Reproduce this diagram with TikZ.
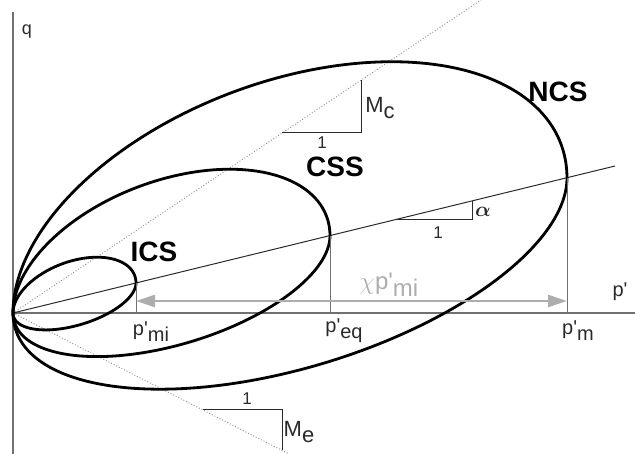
\documentclass[tikz,border=0pt]{standalone}
\usepackage{amsmath,amssymb}
\usepackage{fontspec}
\setmainfont{Liberation Sans}
\usetikzlibrary{arrows.meta,positioning,calc}
\definecolor{Ink}{HTML}{2A2A2A}
\definecolor{Axis}{HTML}{707070}
\definecolor{Guide}{HTML}{8A8A8A}
\definecolor{Span}{HTML}{ADADAD}
\newcommand{\lowsub}[1]{\raisebox{-.55ex}{#1}}
\tikzset{
  >=Latex,
  axis/.style={draw=Axis,line width=1.3pt},
  surf/.style={draw=black,line width=2.8pt,line join=round},
  slope/.style={draw=Ink,line width=1pt},
  crit/.style={draw=Guide,line width=.9pt,dotted},
  drop/.style={draw=Axis,line width=.9pt},
  span/.style={<->,draw=Span,line width=2.6pt,>={Triangle[length=19pt,width=12pt]}},
  lab/.style={font=\fontsize{20}{20}\selectfont,inner sep=1pt,text=Ink},
  tag/.style={font=\bfseries\fontsize{28}{28}\selectfont,inner sep=0pt},
  one/.style={font=\fontsize{17}{17}\selectfont,inner sep=0pt,text=Ink}
}
\begin{document}
\begin{tikzpicture}[x=1pt,y=1pt]
  \useasboundingbox (-13,-141) rectangle (622,313);
  \coordinate (O) at (0,0);
  \coordinate (qtop) at (0,301);
  \coordinate (qbot) at (0,-141);
  \coordinate (pend) at (622,0);

  % axes and guide lines
  \draw[axis] (qbot) -- (qtop);
  \draw[axis] (O) -- (pend);
  \node[lab,font=\fontsize{18}{18}\selectfont] (q) at (14,281) {q};
  \node[lab] (p) at (607,21) {p\textquotesingle};

  \coordinate (mcend) at (468,313);
  \coordinate (meend) at (276,-141);
  \coordinate (aend) at (602,147);
  \draw[crit] (O) -- (mcend);
  \draw[crit] (O) -- (meend);
  \draw[slope] (O) -- (aend);

  % yield surfaces
  \foreach \pc in {123,317,554}
    \draw[surf] plot[domain=0:360,samples=145,smooth]
      ({\pc*(1-cos(\x))/2},{0.2437*\pc*(1-cos(\x))/2+(sin(\x)>0?0.617:0.458)*\pc*sin(\x)/2}) -- cycle;

  % slope triangles
  \coordinate (mc1) at (269,180);
  \coordinate (mc2) at (348,180);
  \coordinate (mc3) at (348,233);
  \draw[slope] (mc1) -- (mc2) -- (mc3);
  \node[one] (mcone) at (309,170) {1};
  \node[lab,font=\fontsize{22}{22}\selectfont] (mc) at (367,205) {M\lowsub{c}};

  \coordinate (a1) at (382,93);
  \coordinate (a2) at (459,93);
  \coordinate (a3) at (459,112);
  \draw[slope] (a1) -- (a2) -- (a3);
  \node[one] (aone) at (425,80) {1};
  \node[lab] (al) at (470,101) {$\boldsymbol{\alpha}$};

  \coordinate (me1) at (190,-97);
  \coordinate (me2) at (269,-97);
  \coordinate (me3) at (269,-137);
  \draw[slope] (me1) -- (me2) -- (me3);
  \node[one] (meone) at (234,-86) {1};
  \node[lab,font=\fontsize{22}{22}\selectfont] (me) at (286,-119) {M\lowsub{e}};

  % stress markers
  \coordinate (mi) at (123,0);
  \coordinate (mitop) at (123,30);
  \coordinate (eq) at (317,0);
  \coordinate (eqtop) at (317,77.3);
  \coordinate (m) at (554,0);
  \coordinate (mtop) at (554,135);
  \draw[drop] (mi) -- (mitop);
  \draw[drop] (eq) -- (eqtop);
  \draw[drop] (m) -- (mtop);
  \node[lab] (pmi) at (138,-19) {p\textquotesingle\lowsub{mi}};
  \node[lab] (peq) at (331,-18) {p\textquotesingle\lowsub{eq}};
  \node[lab] (pm) at (565,-18) {p\textquotesingle\lowsub{m}};

  \coordinate (sl) at (123,12);
  \coordinate (sr) at (554,12);
  \draw[span] (sl) -- (sr);
  \node[lab,text=Span,font=\fontsize{24}{24}\selectfont] (chi) at (376,28) {$\chi$p\textquotesingle\lowsub{mi}};

  \node[tag] (ics) at (141,61) {ICS};
  \node[tag] (css) at (322,146) {CSS};
  \node[tag] (ncs) at (545,221) {NCS};
\end{tikzpicture}
\end{document}
